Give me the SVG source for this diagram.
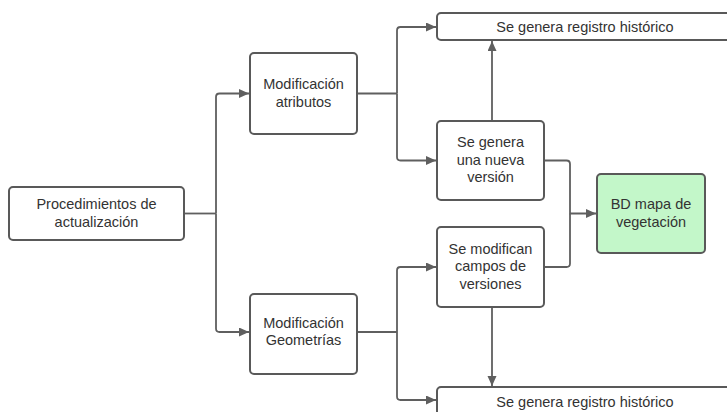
<svg xmlns="http://www.w3.org/2000/svg" width="727" height="412" viewBox="0 0 727 412">
<defs>
<style>
.box{fill:#ffffff;stroke:#595959;stroke-width:2}
.green{fill:#c3f7c9}
.t{font-family:"Liberation Sans",Arial,sans-serif;font-size:14.5px;fill:#333333;text-anchor:middle}
.c{fill:none;stroke:#5f5f5f;stroke-width:1.8;stroke-linejoin:round}
</style>
<marker id="ah" markerUnits="userSpaceOnUse" markerWidth="11" markerHeight="10" refX="10" refY="4.5" orient="auto">
<path d="M0,0 L10,4.5 L0,9 z" fill="#5f5f5f"/>
</marker>
</defs>
<rect width="727" height="412" fill="#ffffff"/>
<g id="connectors">
<path class="c" d="M184,213.5 H216"/>
<path class="c" d="M216,213.5 V97 Q216,93.5 219.5,93.5 H249" marker-end="url(#ah)"/>
<path class="c" d="M216,213.5 V328.5 Q216,332 219.5,332 H249" marker-end="url(#ah)"/>
<path class="c" d="M357,93.5 H397"/>
<path class="c" d="M397,93.5 V30.5 Q397,27 400.5,27 H436" marker-end="url(#ah)"/>
<path class="c" d="M397,93.5 V157 Q397,160.5 400.5,160.5 H436" marker-end="url(#ah)"/>
<path class="c" d="M492,121 V41" marker-end="url(#ah)"/>
<path class="c" d="M544,160.5 H566.5 Q570,160.5 570,164 V213.5 H596" marker-end="url(#ah)"/>
<path class="c" d="M544,267 H566.5 Q570,267 570,263.5 V213.5"/>
<path class="c" d="M357,332 H397"/>
<path class="c" d="M397,332 V270.5 Q397,267 400.5,267 H436" marker-end="url(#ah)"/>
<path class="c" d="M397,332 V396.5 Q397,400 400.5,400 H436" marker-end="url(#ah)"/>
<path class="c" d="M492,307 V386" marker-end="url(#ah)"/>
</g>
<g id="n-proc">
<rect class="box" x="9" y="187" width="175" height="53" rx="4"/>
<text class="t" x="96.5" y="209">Procedimientos de</text>
<text class="t" x="96.5" y="226.5">actualización</text>
</g>
<g id="n-atrib">
<rect class="box" x="250" y="53" width="107" height="81" rx="4"/>
<text class="t" x="303.5" y="89">Modificación</text>
<text class="t" x="303.5" y="106.5">atributos</text>
</g>
<g id="n-geom">
<rect class="box" x="250" y="294" width="107" height="80" rx="4"/>
<text class="t" x="303.5" y="327.5">Modificación</text>
<text class="t" x="303.5" y="345">Geometrías</text>
</g>
<g id="n-hist-top">
<rect class="box" x="437" y="13" width="296" height="27" rx="4"/>
<text class="t" x="585" y="32">Se genera registro histórico</text>
</g>
<g id="n-version">
<rect class="box" x="437" y="121" width="107" height="79" rx="4"/>
<text class="t" x="490.5" y="147">Se genera</text>
<text class="t" x="490.5" y="164.5">una nueva</text>
<text class="t" x="490.5" y="182">versión</text>
</g>
<g id="n-campos">
<rect class="box" x="437" y="227" width="107" height="80" rx="4"/>
<text class="t" x="490.5" y="253.5">Se modifican</text>
<text class="t" x="490.5" y="271">campos de</text>
<text class="t" x="490.5" y="288.5">versiones</text>
</g>
<g id="n-bd">
<rect class="box green" x="597" y="174" width="108" height="79" rx="4"/>
<text class="t" x="651" y="209">BD mapa de</text>
<text class="t" x="651" y="226.5">vegetación</text>
</g>
<g id="n-hist-bot">
<rect class="box" x="437" y="387" width="296" height="40" rx="4"/>
<text class="t" x="585" y="407">Se genera registro histórico</text>
</g>
</svg>
